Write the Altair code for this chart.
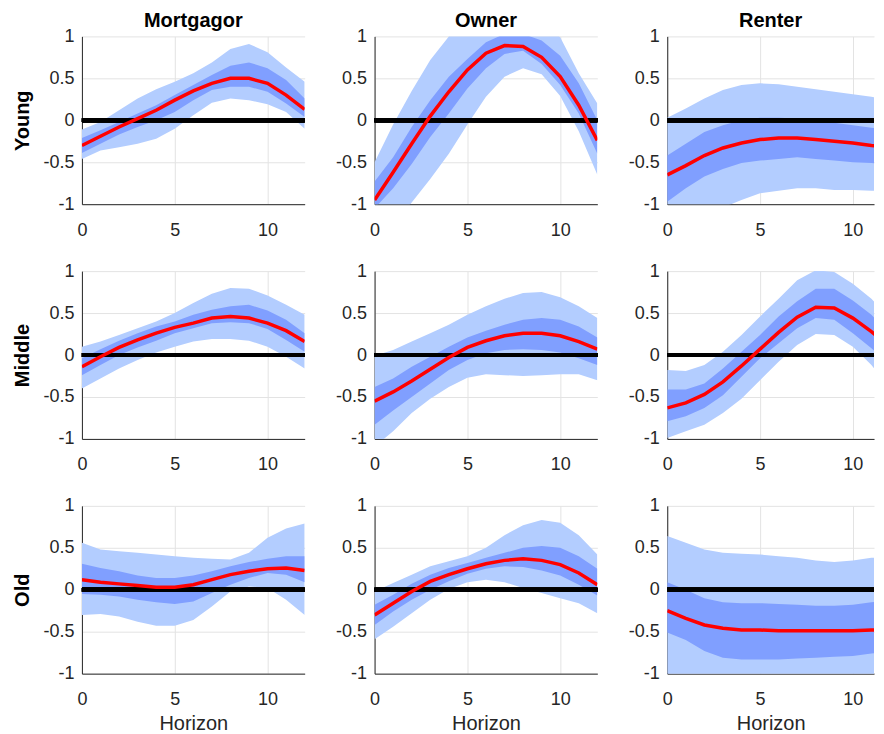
import altair as alt
import pandas as pd

H = list(range(13))

COLS = ["Mortgagor", "Owner", "Renter"]
ROWS = ["Young", "Middle", "Old"]

# ---- Mortgagor / Young
MY_MID = [-0.30, -0.19, -0.08, 0.02, 0.12, 0.24, 0.35, 0.44, 0.50, 0.50, 0.44, 0.30, 0.13]
MY_HI68 = [-0.21, -0.12, -0.02, 0.08, 0.18, 0.30, 0.42, 0.54, 0.65, 0.69, 0.62, 0.48, 0.26]
MY_LO68 = [-0.39, -0.28, -0.17, -0.08, 0.00, 0.10, 0.24, 0.36, 0.40, 0.40, 0.34, 0.20, 0.04]
MY_HI90 = [-0.11, -0.02, 0.12, 0.26, 0.37, 0.46, 0.56, 0.69, 0.85, 0.91, 0.81, 0.63, 0.46]
MY_LO90 = [-0.46, -0.36, -0.32, -0.28, -0.22, -0.10, 0.06, 0.21, 0.26, 0.24, 0.19, 0.10, -0.10]

# ---- Owner / Young
OY_MID = [-0.95, -0.62, -0.28, 0.05, 0.34, 0.60, 0.80, 0.89, 0.88, 0.75, 0.52, 0.18, -0.24]
OY_HI68 = [-0.73, -0.44, -0.08, 0.24, 0.52, 0.73, 0.93, 1.03, 1.03, 0.95, 0.77, 0.44, 0.00]
OY_LO68 = [-1.05, -0.81, -0.52, -0.20, 0.08, 0.38, 0.62, 0.79, 0.83, 0.67, 0.42, 0.08, -0.40]
OY_HI90 = [-0.50, -0.05, 0.35, 0.72, 1.00, 1.20, 1.30, 1.30, 1.30, 1.20, 0.99, 0.56, 0.20]
OY_LO90 = [-1.50, -1.25, -0.98, -0.70, -0.40, -0.05, 0.28, 0.52, 0.62, 0.55, 0.29, -0.13, -0.65]

# ---- Renter / Young
RY_MID = [-0.65, -0.54, -0.42, -0.33, -0.27, -0.23, -0.21, -0.21, -0.23, -0.25, -0.27, -0.30, -0.32]
RY_HI68 = [-0.42, -0.28, -0.14, -0.06, 0.00, 0.03, 0.03, 0.02, -0.01, -0.03, -0.06, -0.09, -0.10]
RY_LO68 = [-0.97, -0.81, -0.67, -0.58, -0.51, -0.48, -0.46, -0.44, -0.46, -0.48, -0.50, -0.51, -0.52]
RY_HI90 = [0.03, 0.14, 0.26, 0.36, 0.42, 0.44, 0.43, 0.40, 0.37, 0.34, 0.31, 0.28, 0.24]
RY_LO90 = [-1.30, -1.20, -1.10, -1.04, -0.95, -0.87, -0.84, -0.81, -0.81, -0.83, -0.83, -0.84, -0.84]

# ---- Mortgagor / Middle
MM_MID = [-0.14, -0.02, 0.09, 0.18, 0.26, 0.33, 0.38, 0.44, 0.46, 0.44, 0.38, 0.29, 0.16]
MM_HI68 = [-0.04, 0.07, 0.17, 0.26, 0.34, 0.40, 0.48, 0.54, 0.58, 0.60, 0.53, 0.42, 0.26]
MM_LO68 = [-0.24, -0.12, 0.00, 0.09, 0.17, 0.26, 0.32, 0.38, 0.39, 0.38, 0.31, 0.18, 0.04]
MM_HI90 = [0.10, 0.16, 0.24, 0.32, 0.40, 0.50, 0.62, 0.73, 0.80, 0.79, 0.71, 0.60, 0.48]
MM_LO90 = [-0.40, -0.28, -0.16, -0.06, 0.03, 0.10, 0.16, 0.19, 0.19, 0.17, 0.10, -0.02, -0.16]

# ---- Owner / Middle
OM_MID = [-0.55, -0.44, -0.31, -0.17, -0.03, 0.09, 0.17, 0.23, 0.26, 0.26, 0.23, 0.16, 0.07]
OM_HI68 = [-0.38, -0.28, -0.14, -0.02, 0.10, 0.21, 0.29, 0.36, 0.42, 0.44, 0.42, 0.34, 0.21]
OM_LO68 = [-0.83, -0.66, -0.50, -0.34, -0.18, -0.06, 0.02, 0.06, 0.07, 0.06, 0.03, -0.04, -0.12]
OM_HI90 = [-0.01, 0.06, 0.16, 0.26, 0.36, 0.48, 0.58, 0.67, 0.74, 0.75, 0.69, 0.58, 0.44]
OM_LO90 = [-1.09, -0.91, -0.69, -0.52, -0.38, -0.27, -0.23, -0.24, -0.25, -0.24, -0.23, -0.23, -0.30]

# ---- Renter / Middle
RM_MID = [-0.63, -0.57, -0.47, -0.32, -0.13, 0.07, 0.27, 0.45, 0.57, 0.56, 0.44, 0.28, 0.10]
RM_HI68 = [-0.41, -0.41, -0.34, -0.16, 0.04, 0.24, 0.46, 0.64, 0.79, 0.79, 0.65, 0.48, 0.25]
RM_LO68 = [-0.79, -0.73, -0.63, -0.48, -0.26, -0.04, 0.14, 0.32, 0.44, 0.42, 0.26, 0.08, -0.10]
RM_HI90 = [-0.18, -0.19, -0.12, 0.04, 0.24, 0.46, 0.67, 0.89, 1.01, 0.99, 0.85, 0.67, 0.45]
RM_LO90 = [-0.99, -0.91, -0.83, -0.69, -0.52, -0.30, -0.08, 0.12, 0.25, 0.24, 0.10, -0.12, -0.40]

# ---- Mortgagor / Old
MO_MID = [0.12, 0.09, 0.07, 0.05, 0.03, 0.03, 0.06, 0.12, 0.18, 0.22, 0.25, 0.26, 0.23]
MO_HI68 = [0.31, 0.26, 0.22, 0.17, 0.14, 0.14, 0.17, 0.22, 0.28, 0.33, 0.37, 0.40, 0.40]
MO_LO68 = [-0.05, -0.06, -0.08, -0.12, -0.15, -0.17, -0.14, -0.04, 0.06, 0.14, 0.20, 0.18, 0.09]
MO_HI90 = [0.56, 0.48, 0.46, 0.44, 0.42, 0.40, 0.38, 0.37, 0.36, 0.44, 0.62, 0.73, 0.79]
MO_LO90 = [-0.30, -0.29, -0.32, -0.38, -0.43, -0.43, -0.36, -0.20, -0.02, 0.04, 0.02, -0.12, -0.30]

# ---- Owner / Old
OO_MID = [-0.30, -0.16, -0.02, 0.10, 0.18, 0.25, 0.31, 0.35, 0.37, 0.35, 0.30, 0.20, 0.06]
OO_HI68 = [-0.18, -0.06, 0.07, 0.18, 0.26, 0.32, 0.38, 0.44, 0.50, 0.52, 0.50, 0.40, 0.25]
OO_LO68 = [-0.42, -0.26, -0.12, 0.00, 0.10, 0.19, 0.25, 0.28, 0.27, 0.23, 0.17, 0.06, -0.07]
OO_HI90 = [-0.02, 0.08, 0.18, 0.28, 0.34, 0.40, 0.50, 0.65, 0.77, 0.83, 0.80, 0.65, 0.42]
OO_LO90 = [-0.59, -0.44, -0.28, -0.12, 0.01, 0.09, 0.12, 0.09, 0.02, -0.04, -0.10, -0.16, -0.28]

# ---- Renter / Old
RO_MID = [-0.25, -0.34, -0.42, -0.46, -0.48, -0.48, -0.49, -0.49, -0.49, -0.49, -0.49, -0.48, -0.47]
RO_HI68 = [0.09, 0.00, -0.10, -0.15, -0.16, -0.16, -0.17, -0.18, -0.19, -0.19, -0.18, -0.15, -0.13]
RO_LO68 = [-0.51, -0.60, -0.73, -0.81, -0.83, -0.83, -0.83, -0.82, -0.81, -0.80, -0.79, -0.76, -0.74]
RO_HI90 = [0.64, 0.56, 0.48, 0.44, 0.43, 0.42, 0.40, 0.38, 0.35, 0.33, 0.35, 0.38, 0.40]
RO_LO90 = [-1.30, -1.30, -1.30, -1.30, -1.30, -1.30, -1.30, -1.30, -1.30, -1.30, -1.30, -1.30, -1.30]

SERIES = [
    [(MY_MID, MY_LO68, MY_HI68, MY_LO90, MY_HI90),
     (OY_MID, OY_LO68, OY_HI68, OY_LO90, OY_HI90),
     (RY_MID, RY_LO68, RY_HI68, RY_LO90, RY_HI90)],
    [(MM_MID, MM_LO68, MM_HI68, MM_LO90, MM_HI90),
     (OM_MID, OM_LO68, OM_HI68, OM_LO90, OM_HI90),
     (RM_MID, RM_LO68, RM_HI68, RM_LO90, RM_HI90)],
    [(MO_MID, MO_LO68, MO_HI68, MO_LO90, MO_HI90),
     (OO_MID, OO_LO68, OO_HI68, OO_LO90, OO_HI90),
     (RO_MID, RO_LO68, RO_HI68, RO_LO90, RO_HI90)],
]

LIGHT = "#b3cdff"
DARK = "#809fff"
FONT = "Liberation Sans"

PANEL_W = [223, 223, 207]
X_MAX = [12, 12, 11.14]
PANEL_H = 168


def panel(r, c):
    mid, lo68, hi68, lo90, hi90 = SERIES[r][c]
    df = pd.DataFrame({"h": H, "mid": mid, "lo68": lo68, "hi68": hi68,
                       "lo90": lo90, "hi90": hi90})
    base = alt.Chart(df)
    xscale = alt.Scale(domain=[0, X_MAX[c]], nice=False, zero=False)
    yscale = alt.Scale(domain=[-1, 1], nice=False)
    xaxis = alt.Axis(values=[0, 5, 10], grid=True, ticks=False, tickSize=0,
                     labelPadding=17, titlePadding=5, labelFlush=False,
                     title="Horizon" if r == 2 else None)
    yaxis = alt.Axis(values=[-1, -0.5, 0, 0.5, 1], grid=True, ticks=False,
                     tickSize=0, labelPadding=8, titlePadding=10,
                     labelFlush=False,
                     labelExpr="toString(datum.value)",
                     title=ROWS[r] if c == 0 else None)
    light = base.mark_area(color=LIGHT, clip=True, opacity=1).encode(
        x=alt.X("h:Q", scale=xscale, axis=xaxis),
        y=alt.Y("lo90:Q", scale=yscale, axis=yaxis),
        y2="hi90:Q",
    )
    dark = base.mark_area(color=DARK, clip=True, opacity=1).encode(
        x=alt.X("h:Q"),
        y=alt.Y("lo68:Q"),
        y2="hi68:Q",
    )
    zero = base.mark_rule(color="black", strokeWidth=4).encode(
        y=alt.datum(0)
    )
    red = base.mark_line(color="#ff0000", strokeWidth=3.5, clip=True).encode(
        x=alt.X("h:Q"),
        y=alt.Y("mid:Q"),
    )
    props = dict(width=PANEL_W[c], height=PANEL_H)
    if r == 0:
        props["title"] = alt.TitleParams(COLS[c], fontSize=20, fontWeight="bold",
                                         font=FONT, color="black", offset=-4)
    return alt.layer(light, dark, zero, red).properties(**props)


panels = [panel(r, c) for r in range(3) for c in range(3)]

chart = alt.concat(
    *panels, columns=3, bounds="flush",
    spacing={"row": 67, "column": 70},
).properties(
    padding={"left": 4, "top": 3, "right": 0, "bottom": 0}
).configure_view(
    stroke=None
).configure_axis(
    labelFont=FONT, labelFontSize=18, labelColor="#262626",
    titleFont=FONT, titleFontSize=20, titleColor="#262626",
    titleFontWeight="normal",
    domainColor="#262626", domainWidth=1,
    gridColor="#e3e3e3", gridWidth=1,
).configure_axisY(
    titleFontWeight="bold", titleColor="black",
)

chart.save("out.html", embed_options={"renderer": "svg", "actions": False})
